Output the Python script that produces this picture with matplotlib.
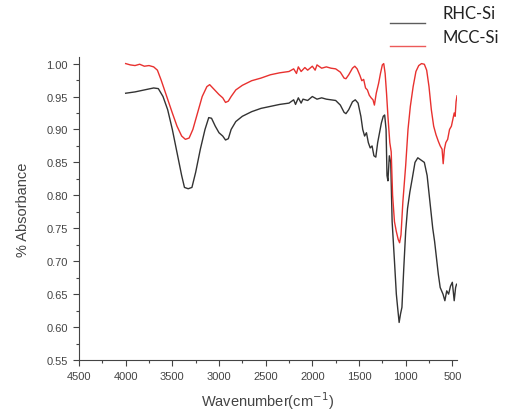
import matplotlib
matplotlib.use("Agg")
import matplotlib.pyplot as plt
from matplotlib.lines import Line2D
from matplotlib.ticker import MultipleLocator, FormatStrFormatter

# RHC-Si spectrum (wavenumber, absorbance)
rhc_wn = [4000, 3900, 3800, 3700, 3650, 3600, 3550, 3500, 3450, 3400, 3370, 3330, 3290,
          3250, 3200, 3150, 3110, 3080, 3040, 3000, 2960, 2930, 2900, 2870, 2820, 2750,
          2650, 2550, 2450, 2350, 2250, 2200, 2180, 2150, 2120, 2100, 2050, 2000, 1950,
          1900, 1850, 1800, 1750, 1700, 1660, 1640, 1610, 1570, 1540, 1510, 1480, 1460,
          1440, 1420, 1400, 1380, 1360, 1340, 1320, 1300, 1280, 1260, 1240, 1225, 1210,
          1200, 1190, 1175, 1160, 1145, 1120, 1100, 1085, 1070, 1055, 1040, 1020, 1000,
          980, 955, 930, 900, 870, 830, 800, 770, 740, 710, 690, 670, 650, 630, 600, 580,
          560, 540, 520, 500, 480, 465, 455]
rhc_ab = [0.955, 0.957, 0.960, 0.963, 0.962, 0.950, 0.930, 0.900, 0.865, 0.830, 0.812, 0.810, 0.812,
          0.835, 0.870, 0.900, 0.918, 0.917, 0.905, 0.895, 0.890, 0.884, 0.886, 0.900, 0.912, 0.920,
          0.927, 0.932, 0.935, 0.938, 0.940, 0.945, 0.938, 0.948, 0.940, 0.946, 0.944, 0.950, 0.946,
          0.948, 0.946, 0.945, 0.944, 0.937, 0.926, 0.924, 0.930, 0.942, 0.945, 0.940, 0.920, 0.900,
          0.890, 0.895, 0.880, 0.872, 0.875, 0.860, 0.858, 0.880, 0.895, 0.910, 0.920, 0.922, 0.900,
          0.830, 0.822, 0.860, 0.850, 0.760, 0.700, 0.650, 0.628, 0.607, 0.620, 0.630, 0.690, 0.745,
          0.780, 0.805, 0.825, 0.850, 0.857, 0.853, 0.850, 0.830, 0.790, 0.750, 0.730, 0.705, 0.680,
          0.660, 0.650, 0.640, 0.655, 0.650, 0.662, 0.668, 0.640, 0.660, 0.665]

# MCC-Si spectrum
mcc_wn = [4000, 3950, 3900, 3850, 3800, 3750, 3700, 3660, 3620, 3560, 3500, 3450, 3400,
          3360, 3320, 3280, 3230, 3180, 3130, 3100, 3060, 3000, 2960, 2930, 2900, 2870,
          2820, 2750, 2650, 2550, 2450, 2350, 2250, 2200, 2170, 2150, 2120, 2080, 2050,
          2000, 1970, 1950, 1900, 1850, 1800, 1750, 1700, 1660, 1640, 1610, 1570, 1545,
          1520, 1490, 1470, 1450, 1430, 1410, 1390, 1370, 1350, 1335, 1315, 1290, 1270,
          1250, 1235, 1220, 1205, 1190, 1170, 1155, 1140, 1120, 1100, 1080, 1065, 1050,
          1030, 1000, 975, 950, 920, 890, 860, 830, 800, 775, 750, 725, 700, 675, 650, 630,
          610, 598, 585, 570, 550, 530, 510, 495, 480, 470, 460, 450]
mcc_ab = [1.000, 0.998, 0.997, 0.999, 0.996, 0.997, 0.995, 0.990, 0.975, 0.950, 0.925, 0.905, 0.890,
          0.885, 0.887, 0.900, 0.925, 0.950, 0.965, 0.968, 0.962, 0.953, 0.948, 0.941, 0.943, 0.950,
          0.960, 0.967, 0.974, 0.978, 0.983, 0.986, 0.988, 0.992, 0.985, 0.995, 0.988, 0.994, 0.990,
          0.996, 0.990, 0.998, 0.993, 0.995, 0.993, 0.992, 0.987, 0.978, 0.977, 0.983, 0.993, 0.996,
          0.992, 0.982, 0.974, 0.976, 0.963, 0.960, 0.952, 0.948, 0.945, 0.937, 0.955, 0.970, 0.985,
          0.998, 1.000, 0.985, 0.955, 0.920, 0.880, 0.866, 0.800, 0.760, 0.745, 0.733, 0.728, 0.740,
          0.790, 0.845, 0.900, 0.935, 0.965, 0.988, 0.997, 1.000, 0.999, 0.990, 0.965, 0.930, 0.905,
          0.892, 0.882, 0.875, 0.870, 0.848, 0.870, 0.880, 0.885, 0.900, 0.905, 0.915, 0.925, 0.920,
          0.942, 0.951]

labels = ['RHC-Si', 'MCC-Si']
colors = ['#333333', '#e8312f']

W, H = 509, 414
plt.rcParams['font.family'] = 'Liberation Sans'
fig = plt.figure(figsize=(W / 100, H / 100), dpi=100)
ax = fig.add_axes([79 / W, 53 / H, 378 / W, 303 / H])

ax.plot(rhc_wn, rhc_ab, color=colors[0], lw=1.0)
ax.plot(mcc_wn, mcc_ab, color=colors[1], lw=1.0)

ax.set_xlim(4500, 450)
ax.set_ylim(0.55, 1.01)
ax.xaxis.set_major_locator(MultipleLocator(500))
ax.xaxis.set_minor_locator(MultipleLocator(250))
ax.yaxis.set_major_locator(MultipleLocator(0.05))
ax.yaxis.set_minor_locator(MultipleLocator(0.025))
ax.yaxis.set_major_formatter(FormatStrFormatter('%.2f'))
ax.tick_params(which='major', direction='out', length=4, width=0.8, labelsize=8,
               colors='#444444', pad=4)
ax.tick_params(which='minor', direction='out', length=2, width=0.8, colors='#444444')
for s in ['top', 'right']:
    ax.spines[s].set_visible(False)
for s in ['left', 'bottom']:
    ax.spines[s].set_color('#444444')

ax.set_ylabel('% Absorbance', fontsize=10.5, color='#444444', labelpad=12)
ax.set_xlabel('Wavenumber(cm$^{-1}$)', fontsize=10.5, color='#444444', labelpad=6)

# legend drawn by hand: lines sit a little below the label centres
for i, (lab, c) in enumerate(zip(labels, colors)):
    y_line = 1 - (24 + 23 * i) / H
    y_text = 1 - (14 + 24 * i) / H
    fig.add_artist(Line2D([390 / W, 425 / W], [y_line, y_line], color=c, lw=1.0, alpha=0.8))
    fig.text(443 / W, y_text, lab, fontsize=12, family='Lato', color='#222222', va='center')

plt.savefig('out.png', dpi=100)
